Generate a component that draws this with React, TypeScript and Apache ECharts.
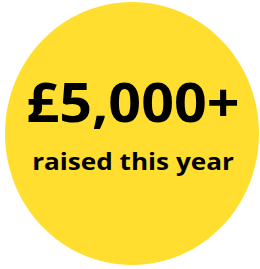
import React, { useEffect, useRef } from "react";
import * as echarts from "echarts";

const headline = ["£5,000+"];
const caption = ["raised this year"];

export default function App() {
  const ref = useRef<HTMLDivElement>(null);
  useEffect(() => {
    const chart = echarts.init(ref.current!, undefined, { renderer: "svg" });
    chart.setOption({
      animation: false,
      graphic: [
        {
          type: "ellipse",
          shape: { cx: 132, cy: 133.5, rx: 127, ry: 131.5 },
          style: { fill: "#FFDE30" },
        },
        {
          type: "text",
          x: 133,
          y: 101,
          scaleX: 1.063,
          style: {
            text: headline[0],
            fill: "#000",
            font: "bold 54px 'Open Sans'",
            align: "center",
            verticalAlign: "middle",
          },
        },
        {
          type: "text",
          x: 133,
          y: 160,
          scaleX: 1.09,
          style: {
            text: caption[0],
            fill: "#000",
            font: "bold 24px 'Open Sans'",
            align: "center",
            verticalAlign: "middle",
          },
        },
      ],
    });
    return () => chart.dispose();
  }, []);
  return <div ref={ref} style={{ width: 260, height: 269, position: "absolute", left: 0, top: 0 }} />;
}
